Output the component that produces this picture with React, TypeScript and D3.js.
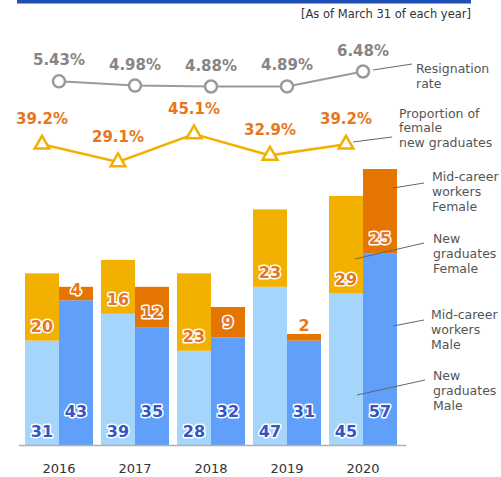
import React from "react";
import * as d3 from "d3";

const years = ["2016", "2017", "2018", "2019", "2020"];
const newMale = [31, 39, 28, 47, 45];
const newFemale = [20, 16, 23, 23, 29];
const midMale = [43, 35, 32, 31, 57];
const midFemale = [4, 12, 9, 2, 25];
const resignation = [5.43, 4.98, 4.88, 4.89, 6.48];
const femaleProportion = [39.2, 29.1, 45.1, 32.9, 39.2];

const C = {
  newMale: "#a6d5fc",
  midMale: "#609ffa",
  newFemale: "#f2b100",
  midFemale: "#e37500",
  labelBlue: "#3556c2",
  labelOrange: "#e8761c",
  gray: "#9a9a9a",
  grayText: "#858585",
  legend: "#555",
};

const FONT = "'DejaVu Sans', Verdana, sans-serif";

export default function App() {
  const W = 501, H = 477;
  const x = d3.scaleBand<string>().domain(years).range([21, 401]).paddingInner(8 / 76).paddingOuter(4 / 76);
  const sub = d3.scaleBand<string>().domain(["new", "mid"]).range([0, x.bandwidth()]);
  const y = d3.scaleLinear().domain([0, 82]).range([445, 169]);
  const yRes = d3.scaleLinear().domain([4.88, 6.48]).range([86.5, 71.5]);
  const yProp = d3.scaleLinear().domain([29.1, 45.1]).range([162, 134]);
  const bw = sub.bandwidth();

  const resPts: [number, number][] = years.map((yr, i) => [x(yr)! + x.bandwidth() / 2, yRes(resignation[i])]);
  const propPts: [number, number][] = years.map((yr, i) => [x(yr)! + sub("new")! + bw / 2, yProp(femaleProportion[i])]);
  const line = d3.line();
  const tri = d3.symbol().type(d3.symbolTriangle).size(95)();

  const outline = { stroke: "#fff", strokeWidth: 3, paintOrder: "stroke" as const, strokeLinejoin: "round" as const };

  const femaleLabelY = (bottom: number, top: number) => {
    const h = bottom - top;
    if (h < 8) return top - 3;
    return bottom - Math.min(9, h * 0.4);
  };

  return (
    <svg width={W} height={H} style={{ position: "absolute", left: 0, top: 0, fontFamily: FONT }}>
      <rect x={17} y={0} width={454} height={3.5} fill="#1f4fb5" />
      <text x={471} y={18} textAnchor="end" fontSize={11.5} fill="#333">[As of March 31 of each year]</text>

      {/* bars */}
      {years.map((yr, i) => {
        const x0 = x(yr)!;
        const xn = x0 + sub("new")!;
        const xm = x0 + sub("mid")!;
        const nmTop = y(newMale[i]);
        const nfTop = y(newMale[i] + newFemale[i]);
        const mmTop = y(midMale[i]);
        const mfTop = y(midMale[i] + midFemale[i]);
        return (
          <g key={yr}>
            <rect x={xn} y={nmTop} width={bw} height={y(0) - nmTop} fill={C.newMale} />
            <rect x={xn} y={nfTop} width={bw} height={nmTop - nfTop} fill={C.newFemale} />
            <rect x={xm} y={mmTop} width={bw} height={y(0) - mmTop} fill={C.midMale} />
            <rect x={xm} y={mfTop} width={bw} height={mmTop - mfTop} fill={C.midFemale} />
          </g>
        );
      })}

      <line x1={19} x2={406} y1={445.5} y2={445.5} stroke="#b0b0b0" strokeWidth={1.5} />

      {/* bar labels */}
      {years.map((yr, i) => {
        const x0 = x(yr)!;
        const cn = x0 + sub("new")! + bw / 2;
        const cm = x0 + sub("mid")! + bw / 2;
        const nmTop = y(newMale[i]);
        const nfTop = y(newMale[i] + newFemale[i]);
        const mmTop = y(midMale[i]);
        const mfTop = y(midMale[i] + midFemale[i]);
        return (
          <g key={"l" + yr} fontSize={16} fontWeight="bold" textAnchor="middle">
            <text x={cn} y={y(0) - 8} fill={C.labelBlue} {...outline}>{newMale[i]}</text>
            <text x={cm} y={y(0) - 28} fill={C.labelBlue} {...outline}>{midMale[i]}</text>
            <text x={cn} y={femaleLabelY(nmTop, nfTop)} fill={C.labelOrange} {...outline}>{newFemale[i]}</text>
            <text x={cm} y={femaleLabelY(mmTop, mfTop)} fill={C.labelOrange} {...outline}>{midFemale[i]}</text>
            <text x={x0 + x.bandwidth() / 2} y={473} fontSize={13} fontWeight="normal" fill="#333">{yr}</text>
          </g>
        );
      })}

      {/* resignation rate line */}
      <path d={line(resPts)!} fill="none" stroke={C.gray} strokeWidth={2} />
      {resPts.map((p, i) => (
        <g key={"r" + i}>
          <circle cx={p[0]} cy={p[1]} r={6} fill="#fff" stroke={C.gray} strokeWidth={2.5} />
          <text x={p[0]} y={p[1] - 16} textAnchor="middle" fontSize={15} fontWeight="bold" fill={C.grayText}>
            {resignation[i].toFixed(2)}%
          </text>
        </g>
      ))}

      {/* female proportion line */}
      <path d={line(propPts)!} fill="none" stroke={C.newFemale} strokeWidth={2.5} />
      {propPts.map((p, i) => (
        <g key={"p" + i}>
          <path d={tri!} transform={`translate(${p[0]},${p[1]})`} fill="#fff" stroke={C.newFemale} strokeWidth={2.5} />
          <text x={p[0]} y={p[1] - 20} textAnchor="middle" fontSize={15} fontWeight="bold" fill={C.labelOrange}>
            {femaleProportion[i].toFixed(1)}%
          </text>
        </g>
      ))}

      {/* legend / annotations */}
      <g stroke="#666" strokeWidth={1} fill="none">
        <line x1={373} y1={70} x2={412} y2={64} />
        <line x1={353} y1={142} x2={392} y2={137} />
        <line x1={393} y1={188} x2={424} y2={183} />
        <line x1={355} y1={259} x2={424} y2={243} />
        <line x1={393} y1={326} x2={424} y2={320} />
        <line x1={357} y1={395} x2={425} y2={380} />
      </g>
      <g fontSize={12.5} fill={C.legend}>
        <text x={416} y={73}>Resignation</text>
        <text x={416} y={88}>rate</text>
        <text x={399} y={118}>Proportion of</text>
        <text x={399} y={132}>female</text>
        <text x={399} y={147}>new graduates</text>
        <text x={432} y={181}>Mid-career</text>
        <text x={432} y={196}>workers</text>
        <text x={432} y={211}>Female</text>
        <text x={433} y={243}>New</text>
        <text x={433} y={258}>graduates</text>
        <text x={433} y={273}>Female</text>
        <text x={431} y={319}>Mid-career</text>
        <text x={431} y={334}>workers</text>
        <text x={431} y={349}>Male</text>
        <text x={433} y={380}>New</text>
        <text x={433} y={395}>graduates</text>
        <text x={433} y={410}>Male</text>
      </g>
    </svg>
  );
}
